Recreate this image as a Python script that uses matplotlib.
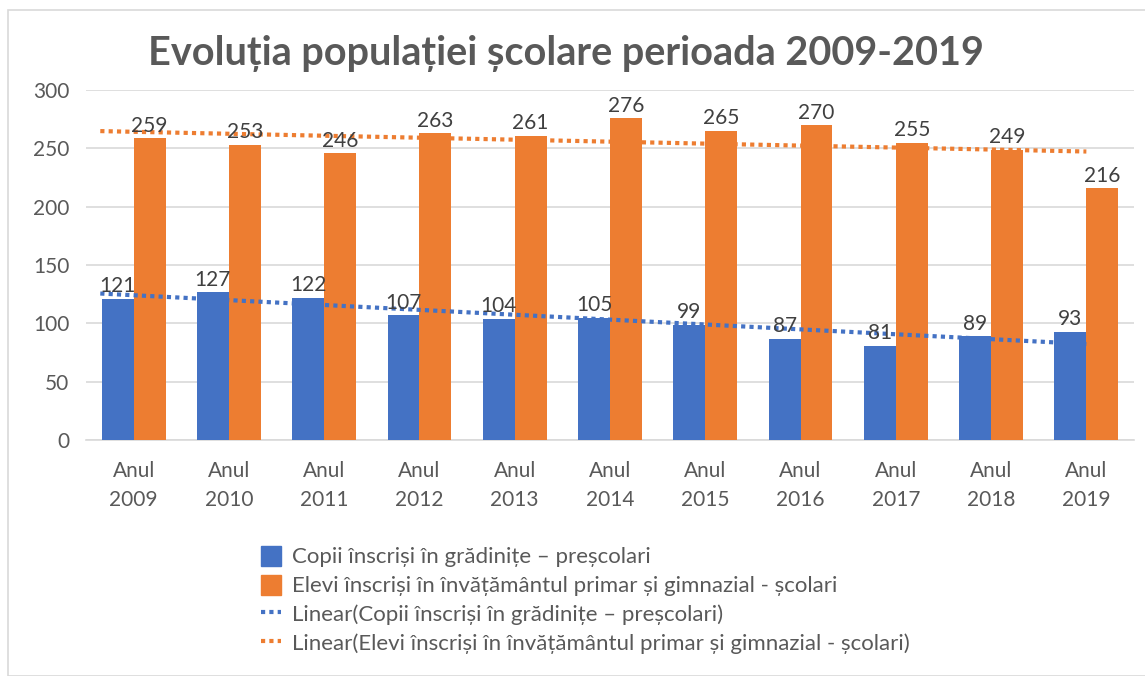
import numpy as np
import matplotlib
matplotlib.use("Agg")
import matplotlib.pyplot as plt
from matplotlib.patches import Rectangle
from matplotlib.lines import Line2D
from matplotlib.patches import Patch

plt.rcParams['font.family'] = ['Lato', 'DejaVu Sans']

years = ["Anul\n2009", "Anul\n2010", "Anul\n2011", "Anul\n2012", "Anul\n2013", "Anul\n2014",
         "Anul\n2015", "Anul\n2016", "Anul\n2017", "Anul\n2018", "Anul\n2019"]
prescolari = [121, 127, 122, 107, 104, 105, 99, 87, 81, 89, 93]
scolari = [259, 253, 246, 263, 261, 276, 265, 270, 255, 249, 216]
name_pre = "Copii înscriși în grădinițe – preșcolari"
name_sco = "Elevi înscriși în învățământul primar și gimnazial - școlari"
title = "Evoluția populației școlare perioada 2009-2019"

BLUE = "#4472C4"
ORANGE = "#ED7D31"
TXT = "#595959"

fig = plt.figure(figsize=(11.45, 6.76), dpi=100)
fig.patches.append(Rectangle((8/1145, 0), 1.2, 1 - 10/676, transform=fig.transFigure,
                             fill=False, edgecolor="#D9D9D9", linewidth=1.2))
ax = fig.add_axes([86/1145, 1 - 440/676, (1134 - 86)/1145, (440 - 90)/676])

x = np.arange(len(years))
w = 0.335
ax.bar(x - w/2, prescolari, w, color=BLUE, zorder=3)
ax.bar(x + w/2, scolari, w, color=ORANGE, zorder=3)

for xi, v in zip(x, prescolari):
    ax.text(xi - w/2, v + 2, str(v), ha="center", va="bottom", fontsize=15, color="#404040", zorder=5)
for xi, v in zip(x, scolari):
    ax.text(xi + w/2, v + 2, str(v), ha="center", va="bottom", fontsize=15, color="#404040", zorder=5)

p1 = np.polyfit(x, prescolari, 1)
p2 = np.polyfit(x, scolari, 1)
xt = np.array([x[0] - 0.35, x[-1]])
ax.plot(xt, np.polyval(p1, xt), color=BLUE, linestyle=(0, (1, 1)), linewidth=3, zorder=4)
ax.plot(xt, np.polyval(p2, xt), color=ORANGE, linestyle=(0, (1, 1)), linewidth=3, zorder=4)

ax.set_xlim(-0.5, len(years) - 0.5)
ax.set_ylim(0, 300)
ax.set_yticks(range(0, 301, 50))
ax.set_xticks(x)
ax.set_xticklabels(years, fontsize=15, color=TXT, linespacing=1.55)
ax.tick_params(axis="y", labelsize=15, labelcolor=TXT, length=0, pad=12)
ax.tick_params(axis="x", length=0, pad=15)
ax.grid(axis="y", color="#D9D9D9", linewidth=1.2, zorder=0)
for s in ["top", "right", "left"]:
    ax.spines[s].set_visible(False)
ax.spines["bottom"].set_color("#D9D9D9")
ax.spines["bottom"].set_linewidth(1.2)

fig.text(0.494, 1 - 54/676, title, ha="center", va="center", fontsize=28.5, fontweight="bold", color=TXT)

handles = [Patch(color=BLUE), Patch(color=ORANGE),
           Line2D([], [], color=BLUE, linestyle=(0, (1, 1)), linewidth=3),
           Line2D([], [], color=ORANGE, linestyle=(0, (1, 1)), linewidth=3)]
labels = [name_pre, name_sco, "Linear(" + name_pre + ")", "Linear(" + name_sco + ")"]
fig.legend(handles, labels, loc="upper left", bbox_to_anchor=(252/1145, 1 - 537/676),
           frameon=False, fontsize=16, labelcolor=TXT, handlelength=0.9, handleheight=1.0,
           handletextpad=0.5, labelspacing=0.33, borderaxespad=0)

fig.savefig("out.png", dpi=100, facecolor="white")
